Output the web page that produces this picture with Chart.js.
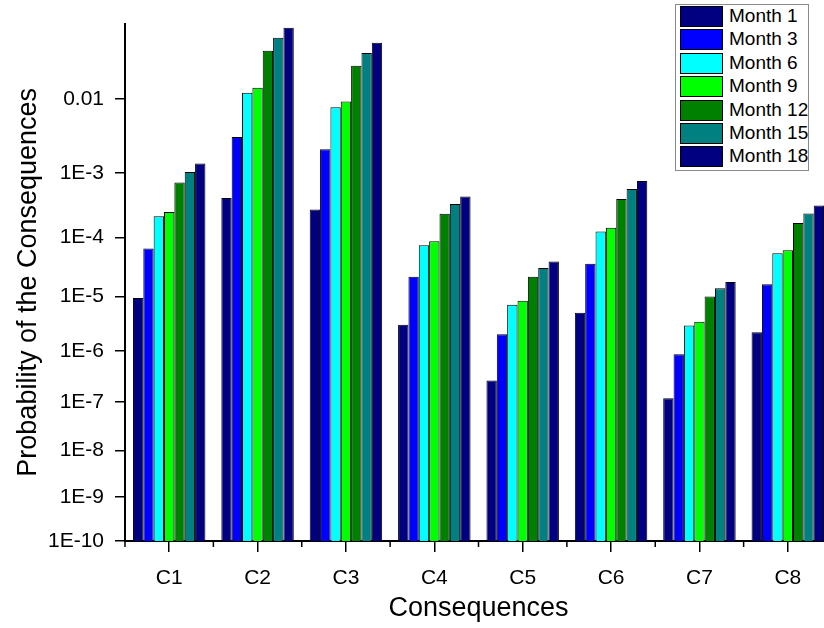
<!DOCTYPE html>
<html>
<head>
<meta charset="utf-8">
<script src="https://cdn.jsdelivr.net/npm/chart.js@4"></script>
<style>
html,body{margin:0;padding:0;overflow:hidden;background:#fff}
#wrap{position:relative;width:840px;height:628px}
#legend{position:absolute;left:675px;top:4px;width:134px;height:167px;border:1px solid #8a8a8a;background:#fff;box-sizing:border-box;font-family:"Liberation Sans",Arial,sans-serif;font-size:19px;color:#000}
.row{position:absolute;left:4px;height:21px;white-space:nowrap}
.sw{position:absolute;left:0;top:0;width:43px;height:21px;border:1px solid #000;box-sizing:border-box}
.lb{position:absolute;left:49px;top:-1px;line-height:22px}
</style>
</head>
<body>
<div id="wrap">
<canvas id="chart"></canvas>
<div id="legend"></div>
</div>
<script>
// data
const categories=["C1","C2","C3","C4","C5","C6","C7","C8"]
const seriesNames=["Month 1","Month 3","Month 6","Month 9","Month 12","Month 15","Month 18"]
const seriesColors=["#000080","#0000ff","#00ffff","#00ff00","#008000","#008080","#000080"]

const month1=[9.4e-6,4.2e-4,2.8e-4,3.1e-6,2.7e-7,5.1e-6,1.2e-7,2.25e-6]
const month3=[6.6e-5,3.2e-3,2.16e-3,2.2e-5,2.05e-6,3.7e-5,8.7e-7,1.64e-5]
const month6=[2.2e-4,0.012,7.9e-3,7.5e-5,7.1e-6,1.26e-4,3.0e-6,5.5e-5]
const month9=[2.56e-4,0.0138,9.3e-3,8.7e-5,8.35e-6,1.44e-4,3.5e-6,6.2e-5]
const month12=[7.2e-4,0.0369,0.0251,2.4e-4,2.2e-5,4.06e-4,1.0e-5,1.71e-4]
const month15=[1.03e-3,0.0511,0.0349,3.4e-4,3.13e-5,5.74e-4,1.4e-5,2.42e-4]
const month18=[1.36e-3,0.0648,0.0452,4.42e-4,4.03e-5,7.57e-4,1.79e-5,3.24e-4]

const tickValues=[1e-10,1e-9,1e-8,1e-7,1e-6,1e-5,1e-4,1e-3,1e-2]
const tickLabels=["1E-10","1E-9","1E-8","1E-7","1E-6","1E-5","1E-4","1E-3","0.01"]

const allSeries=[month1,month3,month6,month9,month12,month15,month18]

// the original axis squeezes decades towards the bottom
const expo=0.62
class PowLogScale extends Chart.LogarithmicScale{
tf(v){return -Math.pow(-Math.log10(v),expo)}
getPixelForValue(value){
if(value===undefined||value===0)value=this.min
if(value===null||isNaN(value)||value<=0)return NaN
const a=this.tf(this.min),b=this.tf(this.max)
return this.getPixelForDecimal((this.tf(value)-a)/(b-a))
}
getValueForPixel(pixel){
const a=this.tf(this.min),b=this.tf(this.max)
const t=a+this.getDecimalForPixel(pixel)*(b-a)
return Math.pow(10,-Math.pow(-t,1/expo))
}
}
PowLogScale.id="powlog"
PowLogScale.defaults=Chart.LogarithmicScale.defaults
Chart.register(PowLogScale)

const font="'Liberation Sans', Arial, sans-serif"

// short ticks between categories
const minorTicks={
id:"minorTicks",
afterDraw(chart){
const x=chart.scales.x
const ctx=chart.ctx
ctx.save()
ctx.strokeStyle="#000"
ctx.lineWidth=1.5
for(let i=0;i<=categories.length;i++){
const px=x.getPixelForValue(i-0.5)
ctx.beginPath()
ctx.moveTo(px,x.top)
ctx.lineTo(px,x.top+6)
ctx.stroke()
}
ctx.restore()
}
}

new Chart(document.getElementById("chart"),{
type:"bar",
data:{
labels:categories,
datasets:allSeries.map((d,i)=>({
label:seriesNames[i],
data:d,
backgroundColor:seriesColors[i],
borderColor:"#000",
borderWidth:1,
categoryPercentage:0.82,
barPercentage:1
}))
},
options:{
responsive:true,
maintainAspectRatio:false,
animation:false,
layout:{padding:{top:20,right:8,left:0,bottom:0}},
plugins:{legend:{display:false},tooltip:{enabled:false}},
scales:{
x:{
grid:{offset:false,drawOnChartArea:false,drawTicks:true,tickLength:11,color:"#000",lineWidth:1.5},
border:{display:true,color:"#000",width:2},
ticks:{color:"#000",font:{family:font,size:21},padding:14},
title:{display:true,text:"Consequences",color:"#000",font:{family:font,size:27},padding:{top:0,bottom:3}},
afterFit(s){s.height=87}
},
y:{
type:"powlog",
min:1e-10,
max:0.0716,
grid:{drawOnChartArea:false,drawTicks:true,tickLength:10,color:"#000",lineWidth:1.5},
border:{display:true,color:"#000",width:2},
afterBuildTicks(s){s.ticks=tickValues.map(v=>({value:v}))},
ticks:{color:"#000",font:{family:font,size:21},padding:11,autoSkip:false,
callback:(v,i)=>tickLabels[i]},
title:{display:true,text:"Probability of the Consequences",color:"#000",font:{family:font,size:27},padding:{top:12,bottom:0}},
afterFit(s){s.width=125}
}
}
},
plugins:[minorTicks]
})

// legend box inside the plot, like the original
const leg=document.getElementById("legend")
seriesNames.forEach((n,i)=>{
const r=document.createElement("div")
r.className="row"
r.style.top=(1+i*23.4)+"px"
r.innerHTML='<div class="sw" style="background:'+seriesColors[i]+'"></div><div class="lb">'+n+'</div>'
leg.appendChild(r)
})
</script>
</body>
</html>
